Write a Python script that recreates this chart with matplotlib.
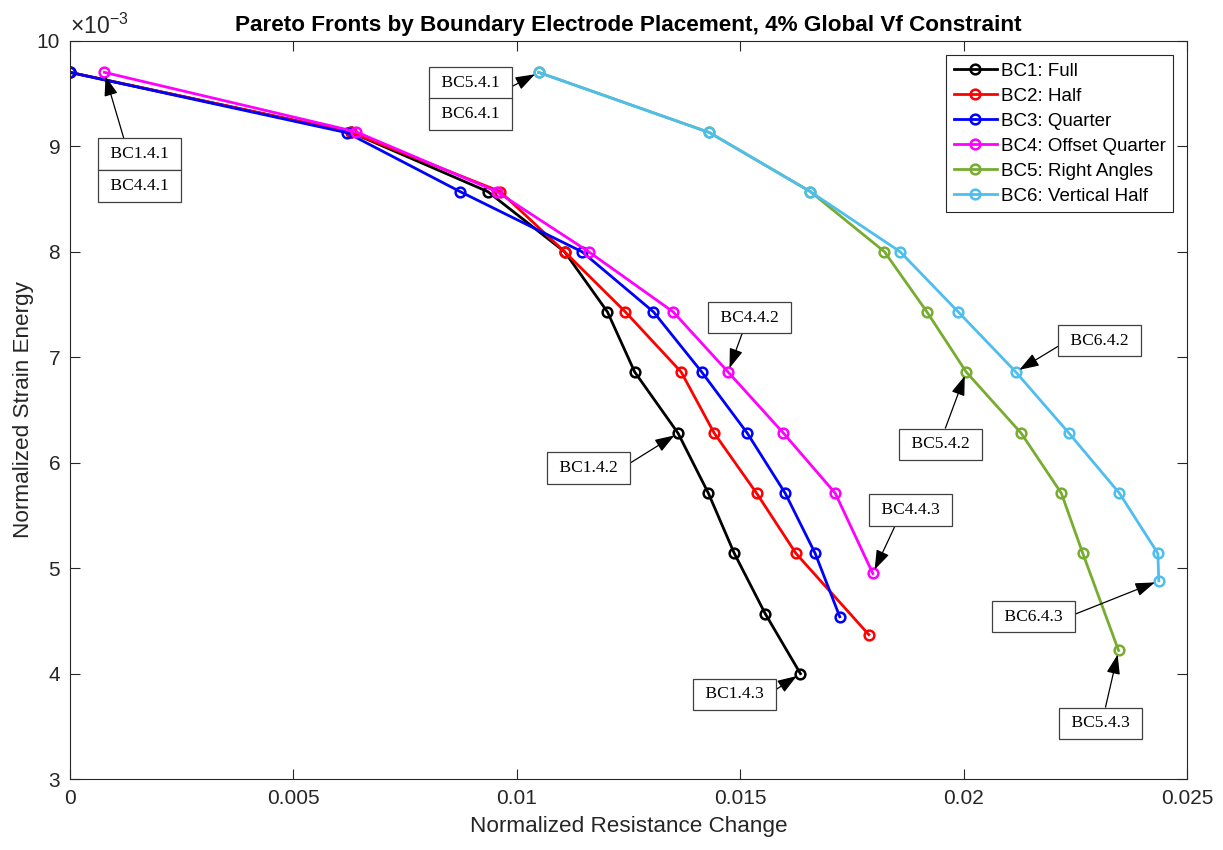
import matplotlib
matplotlib.use("Agg")
import matplotlib.pyplot as plt

plt.rcParams["font.family"] = ["Liberation Sans", "DejaVu Sans"]
plt.rcParams["mathtext.fontset"] = "custom"
plt.rcParams["mathtext.rm"] = "Liberation Sans"
plt.rcParams["mathtext.it"] = "Liberation Sans:italic"

# strain energy in units of 1e-3
bc1_x = [0.0, 0.0063, 0.00935, 0.01107, 0.01203, 0.01264, 0.01361, 0.01429, 0.01487, 0.01556, 0.01635]
bc1_y = [9.70, 9.13, 8.57, 8.00, 7.43, 6.86, 6.28, 5.71, 5.14, 4.57, 4.00]
bc2_x = [0.0, 0.0063, 0.00963, 0.01107, 0.01243, 0.01368, 0.01442, 0.01537, 0.01625, 0.01788]
bc2_y = [9.70, 9.13, 8.57, 8.00, 7.43, 6.86, 6.28, 5.71, 5.14, 4.37]
bc3_x = [0.0, 0.0062, 0.00873, 0.01146, 0.01306, 0.01414, 0.01516, 0.01601, 0.01668, 0.01723]
bc3_y = [9.70, 9.128, 8.57, 8.00, 7.43, 6.86, 6.28, 5.71, 5.14, 4.54]
bc4_x = [0.00077, 0.0064, 0.00955, 0.01161, 0.0135, 0.01473, 0.01597, 0.01713, 0.01797]
bc4_y = [9.70, 9.137, 8.57, 8.00, 7.43, 6.86, 6.28, 5.71, 4.95]
bc5_x = [0.01049, 0.01431, 0.01657, 0.01823, 0.01918, 0.02006, 0.02129, 0.02219, 0.02267, 0.02347]
bc5_y = [9.70, 9.13, 8.57, 8.00, 7.43, 6.86, 6.28, 5.71, 5.14, 4.22]
bc6_x = [0.01049, 0.01431, 0.01657, 0.01858, 0.01988, 0.02117, 0.02236, 0.02349, 0.02435, 0.02437]
bc6_y = [9.70, 9.13, 8.57, 8.00, 7.43, 6.86, 6.28, 5.71, 5.14, 4.88]

labels = ["BC1: Full", "BC2: Half", "BC3: Quarter", "BC4: Offset Quarter",
          "BC5: Right Angles", "BC6: Vertical Half"]
colors = ["#000000", "#FF0000", "#0000FF", "#FF00FF", "#77AC30", "#4DBEEE"]
series = [(bc1_x, bc1_y), (bc2_x, bc2_y), (bc3_x, bc3_y),
          (bc4_x, bc4_y), (bc5_x, bc5_y), (bc6_x, bc6_y)]

fig = plt.figure(figsize=(12.23, 8.5), dpi=100)
ax = fig.add_axes([0.0572, 0.0833, 0.9133, 0.8688])

for (x, y), c, lab in zip(series, colors, labels):
    ax.plot(x, y, "-o", color=c, lw=2, ms=7, mew=1.8, mfc="none", label=lab)

ax.set_xlim(0, 0.025)
ax.set_ylim(3, 10)
ax.set_xticks([0, 0.005, 0.01, 0.015, 0.02, 0.025])
ax.set_xticklabels(["0", "0.005", "0.01", "0.015", "0.02", "0.025"])
ax.set_yticks(range(3, 11))
ax.tick_params(direction="in", length=7.5, width=0.8, top=True, right=True,
               labelsize=15, colors="#262626", pad=7)
for s in ax.spines.values():
    s.set_color("#262626")
    s.set_linewidth(0.8)

ax.text(0.0, 1.003, r"$\times10^{-3}$", transform=ax.transAxes, fontsize=16.5,
        color="#262626", ha="left", va="bottom")

ax.set_xlabel("Normalized Resistance Change", fontsize=16.2, color="#262626", labelpad=6)
ax.set_ylabel("Normalized Strain Energy", fontsize=16.2, color="#262626", labelpad=2)
ax.set_title("Pareto Fronts by Boundary Electrode Placement, 4% Global Vf Constraint",
             fontsize=16.2, fontweight="bold", pad=7)

leg = ax.legend(loc="upper right", bbox_to_anchor=(0.9875, 0.9806), borderaxespad=0,
                fontsize=13.5, handlelength=2.3, labelspacing=0.42, handletextpad=0.2,
                borderpad=0.4, fancybox=False, framealpha=1, edgecolor="#262626")
leg.get_frame().set_linewidth(0.8)

box = dict(boxstyle="square,pad=0.45", fc="white", ec="#404040", lw=0.9)
arrow = dict(arrowstyle="-|>,head_length=0.95,head_width=0.33", color="black",
             lw=0.9, shrinkA=0, shrinkB=3)
tfont = dict(family="Liberation Serif", fontsize=12.6, ha="center", va="center")

# (text, text position, target point, arrow start on box)
notes = [
    ("BC1.4.1", (0.001556, 8.926), (bc4_x[0], bc4_y[0]), (0.3, 1)),
    ("BC5.4.1", (0.008963, 9.602), (bc5_x[0], bc5_y[0]), (1, 0)),
    ("BC4.4.2", (0.0152, 7.376), (bc4_x[5], bc4_y[5]), (0.44, 0)),
    ("BC1.4.2", (0.01161, 5.950), (bc1_x[6], bc1_y[6]), (1, 0.5)),
    ("BC4.4.3", (0.01882, 5.552), (bc4_x[-1], bc4_y[-1]), (0.32, 0)),
    ("BC1.4.3", (0.01488, 3.803), (bc1_x[-1], bc1_y[-1]), (1, 0.5)),
    ("BC6.4.2", (0.02305, 7.158), (bc6_x[5], bc6_y[5]), (0, 0.45)),
    ("BC5.4.2", (0.01948, 6.173), (bc5_x[5], bc5_y[5]), (0.53, 1)),
    ("BC6.4.3", (0.02157, 4.542), (bc6_x[-1], bc6_y[-1]), (1, 0.45)),
    ("BC5.4.3", (0.02306, 3.528), (bc5_x[-1], bc5_y[-1]), (0.55, 1)),
]
for txt, pos, tgt, rp in notes:
    ap = dict(arrow, relpos=rp)
    ax.annotate(" " + txt + " ", xy=tgt, xytext=pos, bbox=box, arrowprops=ap, **tfont)

# second halves of the stacked boxes
ax.text(0.001556, 8.623, " BC4.4.1 ", bbox=box, **tfont)
ax.text(0.008963, 9.302, " BC6.4.1 ", bbox=box, **tfont)

fig.savefig("out.png", dpi=100)
